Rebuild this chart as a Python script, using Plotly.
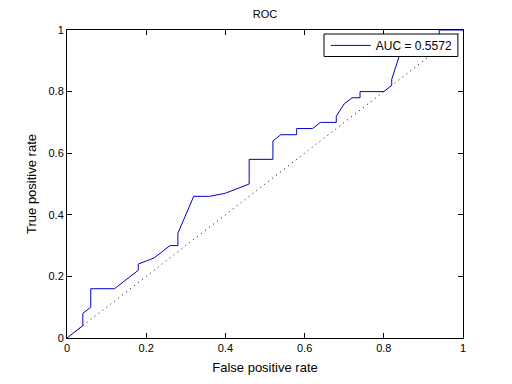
import plotly.graph_objects as go

# ROC curve points
fpr = [0.00, 0.04, 0.04, 0.06, 0.06, 0.12, 0.18, 0.18, 0.20, 0.22, 0.24, 0.26,
       0.28, 0.28, 0.32, 0.36, 0.40, 0.44, 0.46, 0.46, 0.52, 0.52, 0.54, 0.58,
       0.58, 0.62, 0.64, 0.68, 0.68, 0.70, 0.72, 0.74, 0.74, 0.80, 0.82, 0.82,
       0.84, 0.88, 0.94, 0.94, 1.00]
tpr = [0.00, 0.04, 0.08, 0.10, 0.16, 0.16, 0.22, 0.24, 0.25, 0.26, 0.28, 0.30,
       0.30, 0.34, 0.46, 0.46, 0.47, 0.49, 0.50, 0.58, 0.58, 0.64, 0.66, 0.66,
       0.68, 0.68, 0.70, 0.70, 0.72, 0.76, 0.78, 0.78, 0.80, 0.80, 0.82, 0.84,
       0.92, 0.96, 0.98, 1.00, 1.00]
chance = [0, 1]
auc_label = "AUC = 0.5572"
ticks = [0, 0.2, 0.4, 0.6, 0.8, 1]
tick_text = ["0", "0.2", "0.4", "0.6", "0.8", "1"]

fig = go.Figure()

fig.add_trace(go.Scatter(
    x=fpr,
    y=tpr,
    mode="lines",
    name=auc_label,
    line=dict(color="#0000cc", width=1)
))

fig.add_trace(go.Scatter(
    x=chance,
    y=chance,
    mode="lines",
    showlegend=False,
    line=dict(color="black", width=1, dash="1px,4px")
))

axis_style = dict(
    range=[0, 1],
    tickvals=ticks,
    ticktext=tick_text,
    ticks="inside",
    ticklen=5,
    tickcolor="black",
    showline=True,
    linecolor="black",
    linewidth=1,
    mirror="ticks",
    showgrid=False,
    zeroline=False,
)

# legend box, drawn as a shape so it can be shorter than plotly's own
fig.add_shape(
    type="rect", xref="paper", yref="paper",
    x0=0.649, x1=0.987, y0=0.914, y1=0.987,
    line=dict(color="black", width=1), fillcolor="white", layer="above"
)

fig.update_layout(
    width=512,
    height=384,
    margin=dict(l=67, r=49, t=30, b=42),
    paper_bgcolor="white",
    plot_bgcolor="white",
    font=dict(family="Liberation Sans, Arial, sans-serif", size=11, color="black"),
    title=dict(text="ROC", x=0.5175, xanchor="center", y=0.963, yanchor="middle",
               font=dict(size=11)),
    xaxis=dict(title=dict(text="False positive rate", standoff=9), **axis_style),
    yaxis=dict(title=dict(text="True positive rate", standoff=8), **axis_style),
    legend=dict(
        x=0.987, xanchor="right",
        y=0.950, yanchor="middle",
        bgcolor="rgba(0,0,0,0)",
        borderwidth=0,
        itemwidth=40,
        font=dict(size=12),
    ),
)

fig.write_html("out.html", config={"displayModeBar": False},
               post_script="document.body.style.margin='0';")
